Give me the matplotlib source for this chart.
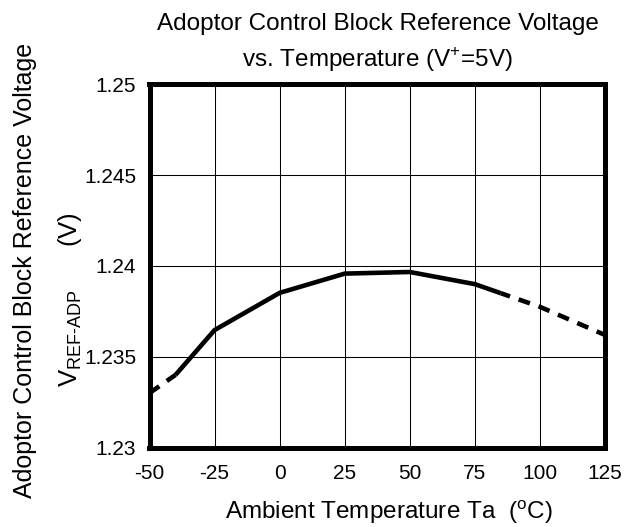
import matplotlib.pyplot as plt

plt.rcParams['font.family'] = ['Liberation Sans', 'DejaVu Sans']
plt.rcParams['mathtext.fontset'] = 'custom'
plt.rcParams['mathtext.rm'] = 'Liberation Sans'
plt.rcParams['axes.unicode_minus'] = False

# curve
temps = [-50, -40, -25, 0, 25, 50, 75, 85, 100, 125]
volts = [1.2330, 1.2340, 1.23647, 1.23852, 1.23958, 1.23967, 1.2390, 1.2385, 1.23775, 1.2362]

x_ticks = [-50, -25, 0, 25, 50, 75, 100, 125]
y_ticks = [1.23, 1.235, 1.24, 1.245, 1.25]
y_labels = ['1.23', '1.235', '1.24', '1.245', '1.25']

W, H = 637, 527
fig = plt.figure(figsize=(W / 100, H / 100), dpi=100)
ax = fig.add_axes([149.5 / W, 1 - 447.5 / H, 455.5 / W, 363 / H])

# solid between -40 and 85, dashed at both ends
ax.plot(temps[1:8], volts[1:8], color='black', lw=3.3, solid_capstyle='butt',
        solid_joinstyle='round', zorder=3)
ax.plot(temps[:2], volts[:2], color='black', lw=3.3, ls=(0, (2.6, 2.0)), zorder=3)
ax.plot(temps[7:], volts[7:], color='black', lw=3.3, ls=(0.5, (2.6, 2.0)), zorder=3)

ax.set_xlim(-50, 125)
ax.set_ylim(1.23, 1.25)
ax.set_xticks(x_ticks)
ax.set_yticks(y_ticks)
ax.set_yticklabels(y_labels)
ax.grid(True, color='black', lw=0.75)
ax.tick_params(length=0, labelsize=15)
ax.tick_params(axis='y', pad=9.5)
ax.tick_params(axis='x', pad=12)
for s in ax.spines.values():
    s.set_linewidth(3.6)

fig.text(389 / W, 1 - 519 / H, r'Ambient Temperature Ta  ($^{\rm o}$C)', fontsize=17.5,
         ha='center', va='baseline')

fig.text(378 / W, 1 - 30 / H, 'Adoptor Control Block Reference Voltage', fontsize=17.5,
         ha='center', va='baseline')
fig.text(377 / W, 1 - 67 / H, r'vs. Temperature (V$^{+}$=5V)', fontsize=17.5,
         ha='center', va='baseline')

fig.text(25 / W, 1 - 270 / H, 'Adoptor Control Block Reference Voltage', fontsize=18,
         rotation=90, ha='center', va='center')
fig.text(70 / W, 1 - 300 / H, r'V$_{\rm REF\text{-}ADP}$      (V)', fontsize=18.5,
         rotation=90, ha='center', va='center')

fig.savefig('out.png', dpi=100)
